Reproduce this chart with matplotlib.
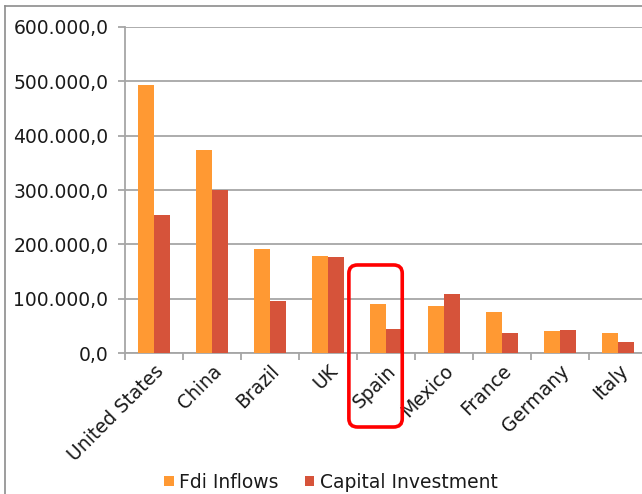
import matplotlib
matplotlib.use("Agg")
import matplotlib.pyplot as plt
import numpy as np
from matplotlib.lines import Line2D
from matplotlib.patches import FancyBboxPatch
from matplotlib.ticker import FuncFormatter, MultipleLocator
from matplotlib.transforms import blended_transform_factory

countries = ["United States", "China", "Brazil", "UK", "Spain",
             "Mexico", "France", "Germany", "Italy"]
fdi_inflows = [493000, 373000, 191000, 179000, 90500, 85600, 75200, 41000, 36700]
capital_investment = [253600, 300000, 94800, 177400, 44600, 109500, 36700, 42800, 20200]
highlight = "Spain"

ORANGE = "#FF9933"
RED = "#D6533A"
GRID = "#A6A6A6"
TEXT = "#1a1a1a"
FS = 13.5

plt.rcParams["font.family"] = "DejaVu Sans"

W, H = 642, 494
fig = plt.figure(figsize=(W / 100, H / 100), dpi=100)
# plot area runs slightly past the right edge of the canvas
ax = fig.add_axes([125 / W, 1 - 353 / H, (647 - 125) / W, (353 - 27) / H])

x = np.arange(len(countries))
bw = 0.284
ax.bar(x - bw / 2, fdi_inflows, bw, color=ORANGE, label="Fdi Inflows", zorder=3)
ax.bar(x + bw / 2, capital_investment, bw, color=RED, label="Capital Investment", zorder=3)

ax.set_xlim(-0.5, len(countries) - 0.5)
ax.set_ylim(0, 600000)


def thousands(v, _pos):
    s = f"{v:,.1f}"
    return s.replace(",", "X").replace(".", ",").replace("X", ".")


ax.yaxis.set_major_locator(MultipleLocator(100000))
ax.yaxis.set_major_formatter(FuncFormatter(thousands))
ax.grid(axis="y", color=GRID, linewidth=1.3, zorder=0)

# category boundaries carry the tick marks, labels sit at the centers
ax.set_xticks(np.arange(len(countries) + 1) - 0.5)
ax.set_xticklabels([])
ax.set_xticks(x, minor=True)
ax.set_xticklabels(countries, minor=True, rotation=45, ha="right",
                   rotation_mode="anchor", fontsize=FS, color=TEXT)
ax.tick_params(axis="x", which="minor", length=0, pad=6)
ax.tick_params(axis="x", which="major", length=5, color=GRID, width=1.3)
ax.tick_params(axis="y", length=5, color=GRID, width=1.3, labelsize=FS,
               labelcolor=TEXT, pad=7)

for side in ("top", "right"):
    ax.spines[side].set_visible(False)
for side in ("left", "bottom"):
    ax.spines[side].set_color(GRID)
    ax.spines[side].set_linewidth(1.3)

# rounded red box around the highlighted category
i = countries.index(highlight)
trans = blended_transform_factory(ax.transData, ax.transAxes)
box = FancyBboxPatch((i - 0.64, -0.227), 0.92, 0.497,
                     boxstyle="round,pad=0,rounding_size=0.15",
                     mutation_aspect=0.17,
                     transform=trans, clip_on=False,
                     facecolor="none", edgecolor="#FF0000", linewidth=2.6, zorder=5)
ax.add_patch(box)

leg = fig.legend(loc="center", bbox_to_anchor=(331 / W, 1 - 482 / H), ncol=2,
                 frameon=False, fontsize=FS, handlelength=0.5, handleheight=0.5,
                 handletextpad=0.3, columnspacing=1.4)
for t in leg.get_texts():
    t.set_color(TEXT)

# chart frame (left and top edges visible)
fig.add_artist(Line2D([5 / W, 5 / W], [0, 1 - 6 / H], color="#8C8C8C", linewidth=1.2))
fig.add_artist(Line2D([5 / W, 1], [1 - 6 / H, 1 - 6 / H], color="#8C8C8C", linewidth=1.2))

fig.savefig("out.png", dpi=100)
